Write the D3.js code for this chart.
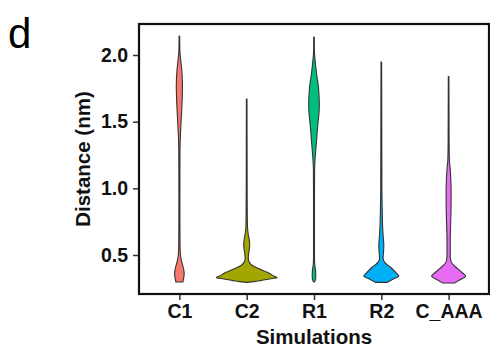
<!DOCTYPE html>
<html>
<head>
<meta charset="utf-8">
<script src="https://cdn.jsdelivr.net/npm/d3@7"></script>
<style>
  html, body { margin: 0; padding: 0; background: #fff; }
  svg { display: block; }
  text { font-family: "Liberation Sans", Arial, Helvetica, sans-serif; }
</style>
</head>
<body>
<div id="chart"></div>
<script>
// Simulations shown along the x axis
const simulations = ["C1", "C2", "R1", "R2", "C_AAA"];
const fills = ["#F8766D", "#A3A500", "#00BF7D", "#00B0F6", "#E76BF3"];
const yTicks = [0.5, 1.0, 1.5, 2.0];

// Kernel density profiles: [distance (nm), relative density (0-100)]
const c1Density = [
  [0.2975, 11.5], [0.335, 14.8], [0.365, 15.8], [0.4025, 13.2], [0.44, 8.6],
  [0.485, 4.3], [0.5375, 2.6], [0.6125, 2.0], [0.9125, 1.6], [1.2875, 2.0],
  [1.3775, 3.0], [1.5125, 5.9], [1.6625, 9.2], [1.775, 10.2], [1.8875, 7.9],
  [1.985, 3.3], [2.0375, 1.6], [2.1425, 1.0]
];
const c2Density = [
  [0.295, 2.0], [0.30, 23], [0.31, 50], [0.32, 76], [0.33, 100],
  [0.3425, 89], [0.365, 73], [0.375, 63], [0.395, 43], [0.408, 30],
  [0.425, 16.5], [0.4475, 8.3], [0.47, 5.3], [0.50, 5.9], [0.5375, 8.3],
  [0.575, 9.9], [0.6125, 8.6], [0.6575, 5.0], [0.7175, 2.6], [0.9125, 1.6],
  [1.2875, 1.3], [1.67, 1.0]
];
const r1Density = [
  [0.2975, 1.6], [0.32, 5.3], [0.35, 5.9], [0.3875, 5.0], [0.425, 2.6],
  [0.4775, 1.6], [0.9, 1.6], [1.1375, 2.0], [1.2125, 3.3], [1.2875, 5.9],
  [1.3625, 8.6], [1.475, 12.5], [1.565, 16.5], [1.625, 17.5], [1.70, 16.5],
  [1.775, 13.9], [1.835, 9.9], [1.91, 5.9], [1.985, 2.6], [2.0375, 1.3],
  [2.135, 1.0]
];
const r2Density = [
  [0.295, 19.8], [0.32, 39.6], [0.3425, 57.8], [0.365, 49.5], [0.3875, 39.6],
  [0.41, 29.7], [0.4325, 16.5], [0.455, 8.3], [0.4775, 5.9], [0.5225, 7.3],
  [0.575, 8.3], [0.6275, 6.6], [0.7025, 4.6], [0.8375, 3.0], [0.9875, 2.0],
  [1.2875, 1.6], [1.6625, 1.3], [1.9475, 1.0]
];
const cAAADensity = [
  [0.29, 19.8], [0.3125, 36.3], [0.34, 56.1], [0.365, 46.2], [0.3875, 34.7],
  [0.41, 23.1], [0.4325, 13.2], [0.455, 7.3], [0.50, 5.3], [0.6125, 5.3],
  [0.725, 6.6], [0.8375, 7.9], [0.95, 8.3], [1.0625, 7.3], [1.1525, 5.0],
  [1.2125, 2.6], [1.3625, 1.6], [1.8375, 1.0]
];
const densities = [c1Density, c2Density, r1Density, r2Density, cAAADensity];

const W = 490, H = 354;
const panel = { left: 139, right: 489, top: 24, bottom: 294 };

const svg = d3.select("#chart").append("svg")
  .attr("width", W).attr("height", H);

const x = d3.scalePoint()
  .domain(simulations)
  .range([panel.left, panel.right])
  .padding(0.6);

const y = d3.scaleLinear()
  .domain([0.2075, 2.2325])
  .range([panel.bottom, panel.top]);

// violin half-width: the densest point spans 90% of a category step
const halfWidth = d3.scaleLinear()
  .domain([0, 100])
  .range([0, x.step() * 0.45]);

// violins
const violins = svg.append("g");
simulations.forEach((name, i) => {
  const cx = x(name);
  const area = d3.area()
    .y(d => y(d[0]))
    .x0(d => cx - halfWidth(d[1]))
    .x1(d => cx + halfWidth(d[1]))
    .curve(d3.curveMonotoneY);
  violins.append("path")
    .datum(densities[i])
    .attr("d", area)
    .attr("fill", fills[i])
    .attr("stroke", "#333")
    .attr("stroke-width", 1.1)
    .attr("stroke-linejoin", "round");
});

// panel border
svg.append("rect")
  .attr("x", panel.left).attr("y", panel.top)
  .attr("width", panel.right - panel.left)
  .attr("height", panel.bottom - panel.top)
  .attr("fill", "none")
  .attr("stroke", "#111")
  .attr("stroke-width", 2.2);

// y axis
const yAxis = svg.append("g")
  .attr("transform", `translate(${panel.left - 1},0)`)
  .call(d3.axisLeft(y).tickValues(yTicks).tickFormat(d3.format(".1f"))
    .tickSize(5).tickPadding(5));
yAxis.select(".domain").remove();
yAxis.selectAll(".tick line").attr("stroke", "#333").attr("stroke-width", 1.5);
yAxis.selectAll(".tick text")
  .attr("fill", "#111")
  .style("font-size", "19.5px")
  .style("font-weight", "bold")
  .style("font-family", "'Liberation Sans', Arial, sans-serif");

// x axis
const xAxis = svg.append("g")
  .attr("transform", `translate(0,${panel.bottom + 1})`)
  .call(d3.axisBottom(x).tickSize(5).tickPadding(4));
xAxis.select(".domain").remove();
xAxis.selectAll(".tick line").attr("stroke", "#333").attr("stroke-width", 1.5);
xAxis.selectAll(".tick text")
  .attr("fill", "#111")
  .style("font-size", "19.5px")
  .style("font-weight", "bold")
  .style("font-family", "'Liberation Sans', Arial, sans-serif");

// axis titles
svg.append("text")
  .attr("x", (panel.left + panel.right) / 2)
  .attr("y", 344)
  .attr("text-anchor", "middle")
  .attr("fill", "#111")
  .style("font-size", "20.5px")
  .style("font-weight", "bold")
  .text("Simulations");

svg.append("text")
  .attr("transform", `translate(90,${(panel.top + panel.bottom) / 2}) rotate(-90)`)
  .attr("text-anchor", "middle")
  .attr("fill", "#111")
  .style("font-size", "20.5px")
  .style("font-weight", "bold")
  .text("Distance (nm)");

// panel letter
svg.append("text")
  .attr("x", 8)
  .attr("y", 48)
  .attr("fill", "#000")
  .style("font-size", "42px")
  .text("d");
</script>
</body>
</html>
